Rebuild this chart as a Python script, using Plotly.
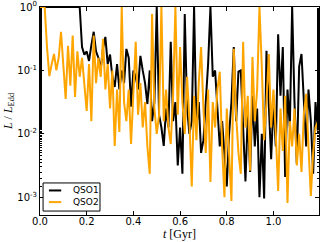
import plotly.graph_objects as go

# time grid (Gyr)
t = [round(i * 0.01, 2) for i in range(120)]

# L/L_Edd (as log10 values, per 0.01 Gyr)
log_qso1 = [
    0, 0, 0, 0, 0, 0, 0, 0, 0, 0, 0, 0, 0, 0, 0, 0, 0, 0,
    -0.63, -0.75, -0.7, -0.85, -0.6, -0.39, -0.7, -0.8, -0.98, -0.65,
    -0.47, -0.9, -0.75, -1.1, -1.26, -0.9, -1.3, -1.0, -1.2, -0.66,
    -0.8, -1.57, -1.0, -1.1, -1.3, -0.77, -1.0, -1.2, -1.53, -1.0,
    -1.8, -1.5, 0, -1.7, -1.9, -2.19, -1.6, -1.9, -0.55, -1.8,
    -1.5, -2.5, -1.9, -2.63, -0.11, -1.6, -2.0, -1.8, 0, -1.9,
    -1.5, -2.3, -2.1, -1.5, -0.9, 0, -1.1, -1.0, -1.6, -2.2,
    -1.8, -2.4, -2.83, -2.0, -1.5, -0.63, -1.8, -1.02, -1.0, -1.9,
    -2.75, -1.7, -2.6, -1.4, -2.2, -1.6, -3.0, -2.0, -3.02, -0.69,
    -1.6, -2.4, -1.5, -2.2, -0.43, -1.4, -0.63, -2.68, -1.3, -1.9,
    0, -1.5, -2.47, -0.94, -0.74, -1.6, -2.2, -1.3, -1.8, -2.63,
    -1.5, -1.95,
]
log_qso2 = [
    0, 0, 0, -0.63, -1.09, -0.9, -0.74, -1.0, -0.8, -0.39,
    -0.9, -1.45, -0.61, -1.24, -0.45, -1.42, -0.7, -1.1, -0.8, -1.3,
    -1.64, -0.9, -1.8, -0.45, -1.2, -0.8, -1.1, -0.5, -1.3, -0.9,
    -1.6, -1.0, -2.19, -1.3, -1.97, 0, -1.5, -1.8, -1.3, -2.16,
    -1.4, -0.55, -1.7, -1.2, -1.9, -1.5, -2.2, -2.63, -0.11, -1.6,
    -2.0, -1.7, 0, -1.8, -1.3, -1.9, -2.16, -1.4, 0, -1.7,
    -0.63, -1.5, -2.0, -1.1, -1.8, -2.83, -1.4, -2.1, -1.2, -0.63,
    -1.6, -2.3, -1.3, -2.76, -1.5, -1.9, -1.3, -1.02, -2.2, -3.0,
    -1.6, -2.4, -3.06, -0.66, -1.7, -2.3, -2.63, -0.55, -1.9, -1.4,
    -2.58, -0.79, -1.8, -1.3, 0, -0.94, -2.1, -1.5, -0.74, -1.9,
    -1.3, -2.0, -2.9, -1.6, -2.27, -1.4, -3.09, -1.8, -2.2, -1.6,
    -2.5, -2.0, -2.6, -1.7, -1.37, -2.2, -2.98, -2.3, -1.9, -1.81,
]
qso1 = [10 ** v for v in log_qso1]
qso2 = [10 ** v for v in log_qso2]

series_names = ["QSO1", "QSO2"]
series_colors = ["black", "#FFA500"]

ytick_vals = [1e-3, 1e-2, 1e-1, 1]
ytick_text = ["10<sup>-3</sup>", "10<sup>-2</sup>", "10<sup>-1</sup>", "10<sup>0</sup>"]
xtick_vals = [0.0, 0.2, 0.4, 0.6, 0.8, 1.0]
xtick_text = ["0.0", "0.2", "0.4", "0.6", "0.8", "1.0"]

fig = go.Figure()
for name, ys, col in zip(series_names, [qso1, qso2], series_colors):
    fig.add_trace(go.Scatter(x=t, y=ys, mode="lines", name=name,
                             line=dict(color=col, width=2), showlegend=False))

# legend box drawn in paper coordinates (lower-left corner of the axes)
shapes = [dict(type="rect", xref="paper", yref="paper", x0=0.011, x1=0.215,
               y0=0.019, y1=0.154, line=dict(color="black", width=1),
               fillcolor="white", layer="above")]
annotations = []
for i, (name, col) in enumerate(zip(series_names, series_colors)):
    yy = 0.118 - i * 0.056
    shapes.append(dict(type="line", xref="paper", yref="paper", x0=0.032, x1=0.076,
                       y0=yy, y1=yy, line=dict(color=col, width=2), layer="above"))
    annotations.append(dict(xref="paper", yref="paper", x=0.112, y=yy, text=name,
                            showarrow=False, xanchor="left", yanchor="middle",
                            font=dict(family="DejaVu Sans", size=9, color="black")))

tickfont = dict(family="DejaVu Sans", size=10, color="black")
fig.update_layout(
    width=320, height=242,
    margin=dict(l=40, r=1, t=7, b=27, autoexpand=False),
    paper_bgcolor="white", plot_bgcolor="white",
    showlegend=False,
    shapes=shapes, annotations=annotations,
    xaxis=dict(range=[0, 1.195], tickvals=xtick_vals, ticktext=xtick_text,
               ticks="inside", ticklen=4, tickcolor="black", mirror="ticks",
               showline=True, linecolor="black", linewidth=1, showgrid=False,
               zeroline=False, tickfont=tickfont, ticklabelstandoff=-3,
               title=dict(text="<i>t</i> [Gyr]", standoff=0,
                          font=dict(family="Liberation Serif", size=12, color="black"))),
    yaxis=dict(type="log", range=[-3.28, 0.0005], tickvals=ytick_vals, ticktext=ytick_text,
               ticks="inside", ticklen=4, tickcolor="black", mirror="ticks",
               showline=True, linecolor="black", linewidth=1, showgrid=False,
               zeroline=False, tickfont=tickfont, ticklabeloverflow="allow",
               minor=dict(ticks="inside", ticklen=2, tickcolor="black", showgrid=False),
               title=dict(text="<i>L</i> / <i>L</i><sub>Edd</sub>", standoff=2,
                          font=dict(family="Liberation Serif", size=12, color="black"))),
)
fig.write_html("out.html", config={"displayModeBar": False},
               post_script="document.body.style.margin='0';")
